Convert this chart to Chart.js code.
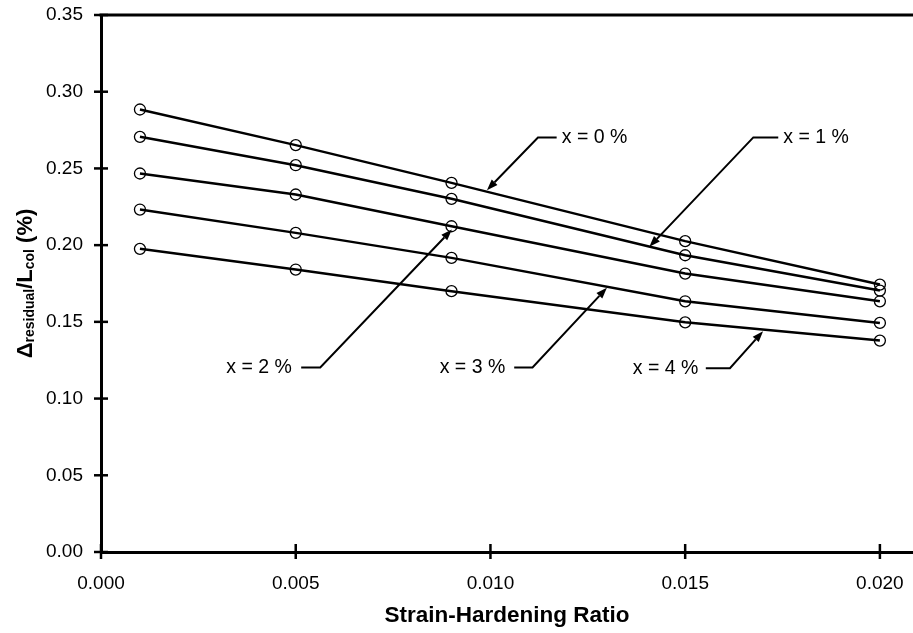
<!DOCTYPE html>
<html><head><meta charset="utf-8">
<style>html,body{margin:0;padding:0;background:#fff;overflow:hidden;}</style>
<script src="https://cdn.jsdelivr.net/npm/chart.js@4.4.1/dist/chart.umd.min.js"></script>
</head><body><canvas id="c" width="913" height="633"></canvas>
<script>
// ---- data ----
const strainRatios = [0.001, 0.005, 0.009, 0.015, 0.020];
const seriesNames = ['x = 0 %', 'x = 1 %', 'x = 2 %', 'x = 3 %', 'x = 4 %'];
const drift0 = [0.2884, 0.2652, 0.2406, 0.2026, 0.1743];
const drift1 = [0.2706, 0.2521, 0.2302, 0.1934, 0.1704];
const drift2 = [0.2467, 0.2330, 0.2123, 0.1815, 0.1634];
const drift3 = [0.2232, 0.2080, 0.1917, 0.1634, 0.1493];
const drift4 = [0.1976, 0.1841, 0.1700, 0.1497, 0.1378];
const xTicks = [0.000, 0.005, 0.010, 0.015, 0.020];
const yTicks = [0.00, 0.05, 0.10, 0.15, 0.20, 0.25, 0.30, 0.35];
const xTitle = 'Strain-Hardening Ratio';

// callout annotations in data coordinates
const callouts = [
  {text: seriesNames[0], align: 'left',  textX: 0.01183, textY: 0.2702, barX: 0.01170, elbowX: 0.01122, tipX: 0.00991, tipY: 0.2358},
  {text: seriesNames[1], align: 'left',  textX: 0.01752, textY: 0.2702, barX: 0.01739, elbowX: 0.01675, tipX: 0.01408, tipY: 0.1989},
  {text: seriesNames[2], align: 'right', textX: 0.00490, textY: 0.1203, barX: 0.00514, elbowX: 0.00563, tipX: 0.00901, tipY: 0.2102},
  {text: seriesNames[3], align: 'right', textX: 0.01038, textY: 0.1203, barX: 0.01061, elbowX: 0.01108, tipX: 0.01299, tipY: 0.1722},
  {text: seriesNames[4], align: 'right', textX: 0.01534, textY: 0.1198, barX: 0.01553, elbowX: 0.01615, tipX: 0.01700, tipY: 0.1439}
];

const allSeries = [drift0, drift1, drift2, drift3, drift4];
const FONT = '"Liberation Sans", Arial, sans-serif';

const datasets = allSeries.map((vals, i) => ({
  label: seriesNames[i],
  data: strainRatios.map((x, j) => ({x: x, y: vals[j]})),
  borderColor: '#000',
  borderWidth: 2.5,
  pointRadius: 5.5,
  pointHoverRadius: 5.5,
  pointBorderWidth: 1.3,
  pointBorderColor: '#000',
  pointBackgroundColor: 'rgba(0,0,0,0)',
  pointStyle: 'circle',
  fill: false,
  tension: 0
}));

const decor = {
  id: 'decor',
  afterDraw(chart) {
    const {ctx, chartArea: a, scales: {x, y}} = chart;
    ctx.save();
    ctx.strokeStyle = '#000';
    ctx.fillStyle = '#000';
    ctx.lineWidth = 3;
    ctx.beginPath(); ctx.moveTo(a.left - 1.5, a.top); ctx.lineTo(a.right, a.top); ctx.stroke();
    ctx.lineWidth = 2.5;
    yTicks.forEach(v => {
      const py = y.getPixelForValue(v);
      ctx.beginPath(); ctx.moveTo(a.left - 7, py); ctx.lineTo(a.left + 7, py); ctx.stroke();
    });
    xTicks.forEach(v => {
      const px = x.getPixelForValue(v);
      ctx.beginPath(); ctx.moveTo(px, a.bottom - 8); ctx.lineTo(px, a.bottom + 7); ctx.stroke();
    });
    ctx.font = '19.5px ' + FONT;
    ctx.textBaseline = 'middle';
    callouts.forEach(c => {
      const ty = y.getPixelForValue(c.textY);
      const bx = x.getPixelForValue(c.barX);
      const ex = x.getPixelForValue(c.elbowX);
      const tx = x.getPixelForValue(c.tipX);
      const tpy = y.getPixelForValue(c.tipY);
      ctx.textAlign = c.align;
      ctx.fillText(c.text, x.getPixelForValue(c.textX), ty);
      ctx.lineWidth = 2;
      const ang = Math.atan2(tpy - ty, tx - ex);
      const L = 11, W = 4;
      const bxh = tx - L * Math.cos(ang), byh = tpy - L * Math.sin(ang);
      ctx.beginPath(); ctx.moveTo(bx, ty); ctx.lineTo(ex, ty); ctx.lineTo(bxh, byh); ctx.stroke();
      ctx.beginPath();
      ctx.moveTo(tx, tpy);
      ctx.lineTo(bxh + W * Math.sin(ang), byh - W * Math.cos(ang));
      ctx.lineTo(bxh - W * Math.sin(ang), byh + W * Math.cos(ang));
      ctx.closePath(); ctx.fill();
    });
    const parts = [
      {t: '\u0394', s: 22, d: 0},
      {t: 'residual', s: 14, d: 2},
      {t: '/L', s: 22, d: 0},
      {t: 'col', s: 14, d: 2},
      {t: ' (%)', s: 22, d: 0}
    ];
    let total = 0;
    parts.forEach(p => { ctx.font = 'bold ' + p.s + 'px ' + FONT; p.w = ctx.measureText(p.t).width; total += p.w; });
    ctx.translate(32, (a.top + a.bottom) / 2);
    ctx.rotate(-Math.PI / 2);
    ctx.textAlign = 'left';
    ctx.textBaseline = 'alphabetic';
    let cx = -total / 2;
    parts.forEach(p => {
      ctx.font = 'bold ' + p.s + 'px ' + FONT;
      ctx.fillText(p.t, cx, p.d);
      cx += p.w;
    });
    ctx.restore();
  }
};

new Chart(document.getElementById('c'), {
  type: 'line',
  data: {datasets},
  plugins: [decor],
  options: {
    responsive: false,
    animation: false,
    events: [],
    layout: {autoPadding: false, padding: {left: 0, right: 0, top: 15, bottom: 0}},
    plugins: {legend: {display: false}, tooltip: {enabled: false}, title: {display: false}},
    scales: {
      x: {
        type: 'linear',
        min: 0,
        max: 0.02085,
        afterBuildTicks: s => { s.ticks = xTicks.map(v => ({value: v})); },
        afterFit: s => { s.height = 81; s.paddingLeft = 0; s.paddingRight = 0; },
        grid: {display: false, drawTicks: false, tickLength: 0},
        border: {display: true, color: '#000', width: 3},
        ticks: {
          color: '#000', padding: 20, maxRotation: 0, autoSkip: false,
          font: {family: FONT, size: 19},
          callback: v => Number(v).toFixed(3)
        },
        title: {display: true, text: xTitle, color: '#000', font: {family: FONT, size: 22.5, weight: 'bold'}, padding: {top: 0, bottom: 4}}
      },
      y: {
        type: 'linear',
        min: 0,
        max: 0.35,
        afterBuildTicks: s => { s.ticks = yTicks.map(v => ({value: v})); },
        afterFit: s => { s.width = 101; s.paddingTop = 0; s.paddingBottom = 0; },
        grid: {display: false, drawTicks: false, tickLength: 0},
        border: {display: true, color: '#000', width: 3},
        ticks: {
          color: '#000', padding: 18, autoSkip: false,
          font: {family: FONT, size: 19},
          callback: v => Number(v).toFixed(2)
        }
      }
    }
  }
});
</script>
</body></html>
